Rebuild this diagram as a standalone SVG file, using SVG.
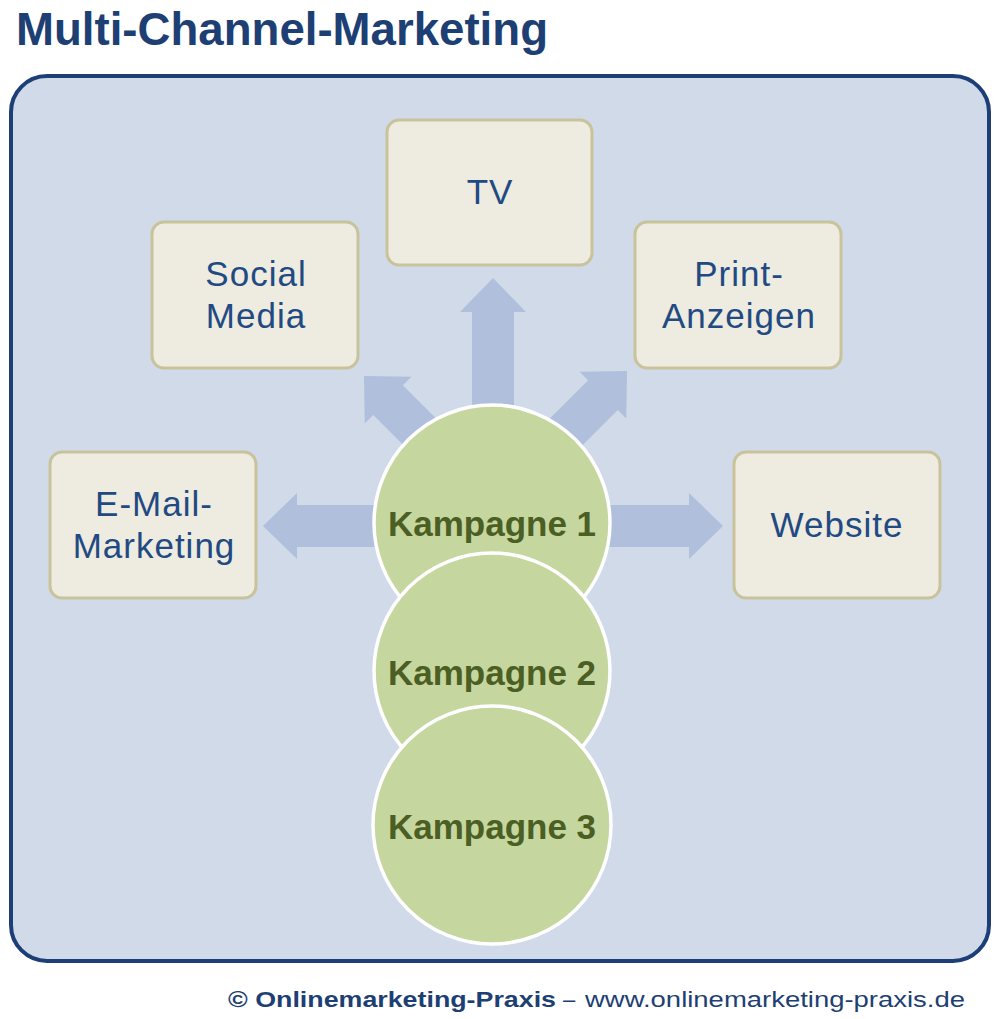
<svg xmlns="http://www.w3.org/2000/svg" width="1000" height="1019" viewBox="0 0 1000 1019">
<style>
.title{font-family:"Liberation Sans",Arial,sans-serif;font-weight:bold;font-size:46px;fill:#1d3f74}
.box{fill:#eeebe0;stroke:#c9c39c;stroke-width:3}
.lbl{font-family:"Liberation Sans",Arial,sans-serif;font-size:35px;fill:#224a82;text-anchor:middle;letter-spacing:1px}
.circ{fill:#c5d69f;stroke:#ffffff;stroke-width:3.5}
.kt{font-family:"Liberation Sans",Arial,sans-serif;font-weight:bold;font-size:35px;fill:#4b5f24;text-anchor:middle}
.arr{fill:#b0c0dc}
.foot{font-family:"Liberation Sans",Arial,sans-serif;font-size:22px;fill:#1d3f74}
</style>
<defs>
<path id="arrow" d="M0,0 L-34,-33 L-34,-21 L-200,-21 L-200,21 L-34,21 L-34,33 Z"/>
</defs>
<rect width="1000" height="1019" fill="#ffffff"/>
<text class="title" x="16" y="45" textLength="532" lengthAdjust="spacingAndGlyphs">Multi-Channel-Marketing</text>
<rect x="11" y="76" width="978" height="885" rx="36" fill="#d0dae8" stroke="#1c3f78" stroke-width="4"/>
<g id="connectors" class="arr">
<use href="#arrow" transform="translate(493,278) rotate(-90)"/>
<use href="#arrow" transform="translate(263,526) rotate(180)"/>
<use href="#arrow" transform="translate(723,526)"/>
<use href="#arrow" transform="translate(364,376) rotate(-135)"/>
<use href="#arrow" transform="translate(627,371) rotate(-45)"/>
</g>
<g id="node-tv"><rect class="box" x="387" y="120" width="205" height="145" rx="12"/><text class="lbl" x="490" y="204">TV</text></g>
<g id="node-social"><rect class="box" x="152" y="222" width="206" height="146" rx="12"/><text class="lbl" x="256" y="286">Social</text><text class="lbl" x="256" y="328">Media</text></g>
<g id="node-print"><rect class="box" x="635" y="222" width="206" height="146" rx="12"/><text class="lbl" x="739" y="286">Print-</text><text class="lbl" x="739" y="328">Anzeigen</text></g>
<g id="node-email"><rect class="box" x="50" y="452" width="206" height="146" rx="12"/><text class="lbl" x="154" y="516">E-Mail-</text><text class="lbl" x="154" y="558">Marketing</text></g>
<g id="node-website"><rect class="box" x="734" y="452" width="206" height="146" rx="12"/><text class="lbl" x="837" y="537">Website</text></g>
<g id="node-k1"><circle class="circ" cx="492" cy="523" r="118"/><text class="kt" x="492" y="536">Kampagne 1</text></g>
<g id="node-k2"><circle class="circ" cx="492" cy="671" r="118"/><text class="kt" x="492" y="685">Kampagne 2</text></g>
<g id="node-k3"><circle class="circ" cx="492" cy="825" r="119"/><text class="kt" x="492" y="839">Kampagne 3</text></g>
<text class="foot" x="228" y="1007"><tspan font-weight="bold" textLength="328" lengthAdjust="spacingAndGlyphs">© Onlinemarketing-Praxis</tspan><tspan x="563">–</tspan><tspan x="585" textLength="380" lengthAdjust="spacingAndGlyphs">www.onlinemarketing-praxis.de</tspan></text>
</svg>
